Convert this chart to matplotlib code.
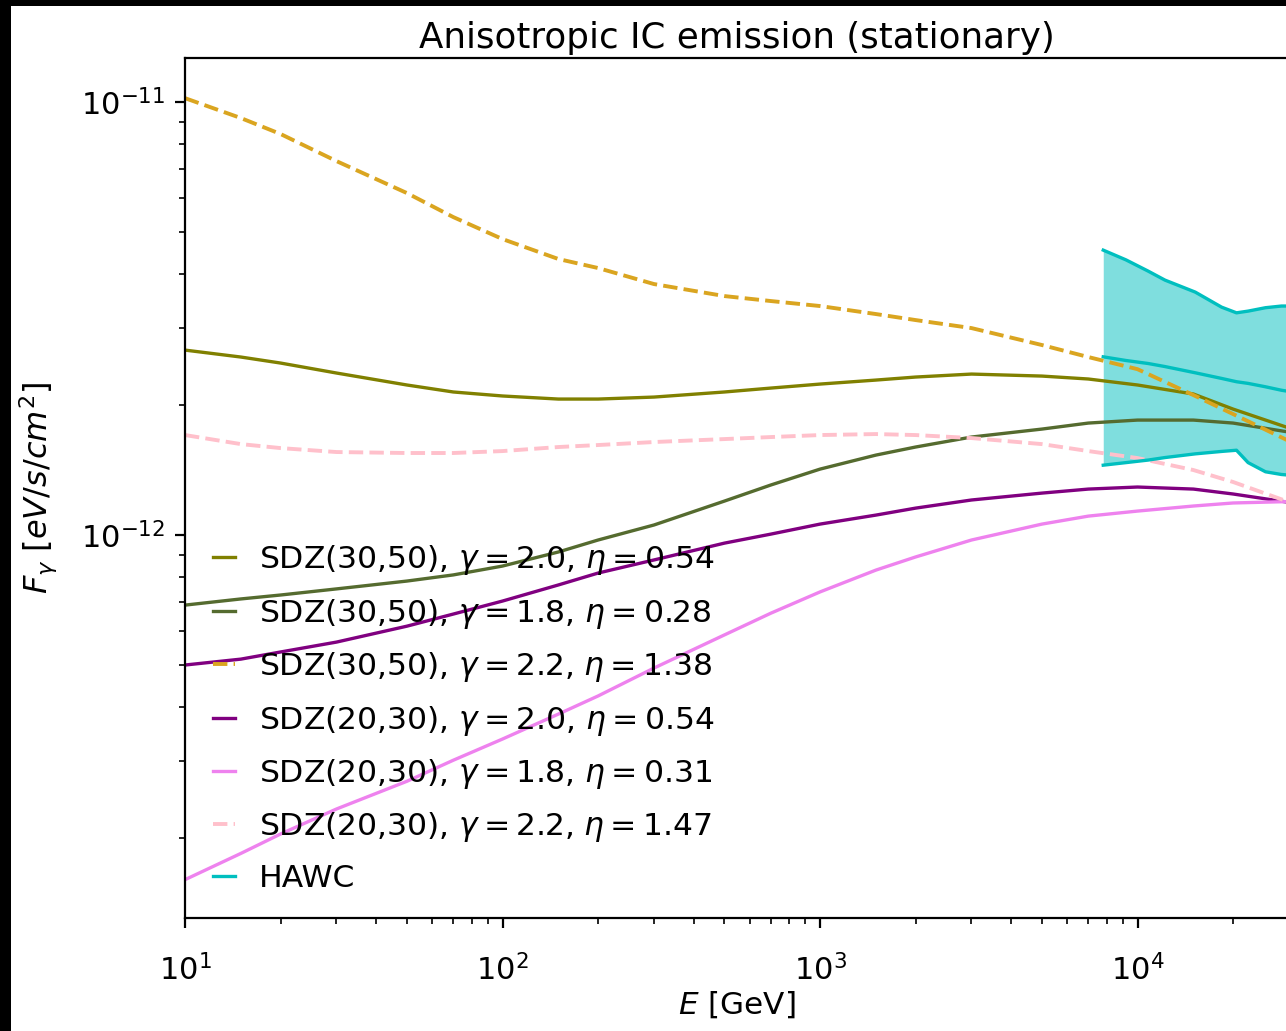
import numpy as np
import matplotlib
matplotlib.use("Agg")
import matplotlib.pyplot as plt
from matplotlib.patches import Rectangle

OUTPUT = "out.png"

# energies [GeV] where the curves were read
E = [10, 15, 20, 30, 50, 70, 100, 150, 200, 300, 500, 700,
     1e3, 1.5e3, 2e3, 3e3, 5e3, 7e3, 1e4, 1.5e4, 2e4, 3e4]

# fluxes in 1e-12 eV/s/cm^2
sdz3050_g20 = [2.674, 2.577, 2.496, 2.367, 2.221, 2.140, 2.095, 2.061, 2.061, 2.083, 2.140, 2.185,
               2.232, 2.280, 2.317, 2.354, 2.329, 2.293, 2.221, 2.117, 1.954, 1.767]
sdz3050_g18 = [0.689, 0.712, 0.727, 0.751, 0.783, 0.809, 0.848, 0.914, 0.974, 1.055, 1.198, 1.305,
               1.420, 1.530, 1.597, 1.684, 1.757, 1.814, 1.843, 1.843, 1.814, 1.729]
sdz3050_g22 = [10.21, 9.184, 8.437, 7.305, 6.163, 5.424, 4.826, 4.340, 4.137, 3.799, 3.564, 3.471,
               3.380, 3.239, 3.137, 3.006, 2.747, 2.577, 2.416, 2.105, 1.903, 1.649]
sdz2030_g20 = [0.501, 0.517, 0.537, 0.566, 0.616, 0.657, 0.704, 0.767, 0.817, 0.876, 0.958, 1.005,
               1.060, 1.112, 1.154, 1.205, 1.250, 1.277, 1.291, 1.277, 1.244, 1.190]
sdz2030_g18 = [0.160, 0.184, 0.204, 0.233, 0.270, 0.302, 0.338, 0.386, 0.425, 0.493, 0.588, 0.660,
               0.739, 0.830, 0.890, 0.974, 1.060, 1.106, 1.136, 1.167, 1.186, 1.195]
sdz2030_g22 = [1.702, 1.622, 1.588, 1.555, 1.547, 1.547, 1.563, 1.597, 1.614, 1.640, 1.666, 1.684,
               1.702, 1.711, 1.702, 1.675, 1.622, 1.563, 1.506, 1.413, 1.326, 1.192]

# HAWC band
E_hawc = [7.8e3, 9.2e3, 1.08e4, 1.22e4, 1.52e4, 1.84e4, 2.05e4, 2.23e4, 2.53e4, 2.84e4, 3.2e4]
hawc_mid = [2.58, 2.53, 2.49, 2.45, 2.37, 2.30, 2.26, 2.24, 2.20, 2.16, 2.13]
hawc_up = [4.55, 4.32, 4.07, 3.88, 3.64, 3.36, 3.26, 3.29, 3.35, 3.38, 3.38]
hawc_lo = [1.45, 1.47, 1.49, 1.51, 1.54, 1.56, 1.57, 1.47, 1.40, 1.38, 1.37]

labels = [r"SDZ(30,50), $\gamma = 2.0$, $\eta = 0.54$",
          r"SDZ(30,50), $\gamma = 1.8$, $\eta = 0.28$",
          r"SDZ(30,50), $\gamma = 2.2$, $\eta = 1.38$",
          r"SDZ(20,30), $\gamma = 2.0$, $\eta = 0.54$",
          r"SDZ(20,30), $\gamma = 1.8$, $\eta = 0.31$",
          r"SDZ(20,30), $\gamma = 2.2$, $\eta = 1.47$"]

W, H = 1286, 1031
DPI = 200
fig = plt.figure(figsize=(W / DPI, H / DPI), dpi=DPI, facecolor="black")
# white canvas, the picture is a crop with a black rim on top/left
fig.patches.append(Rectangle((11 / W, 0), 1, (H - 6) / H, transform=fig.transFigure,
                             facecolor="white", edgecolor="none", zorder=-1))

ax = fig.add_axes([185 / W, (H - 918) / H, (1289 - 185) / W, (918 - 58) / H])

s = 1e-12
ax.plot(E, np.array(sdz3050_g20) * s, color="olive", lw=1.2, label=labels[0])
ax.plot(E, np.array(sdz3050_g18) * s, color="darkolivegreen", lw=1.2, label=labels[1])
ax.plot(E, np.array(sdz3050_g22) * s, color="goldenrod", lw=1.4, ls="--", label=labels[2])
ax.plot(E, np.array(sdz2030_g20) * s, color="purple", lw=1.2, label=labels[3])
ax.plot(E, np.array(sdz2030_g18) * s, color="violet", lw=1.2, label=labels[4])
ax.plot(E, np.array(sdz2030_g22) * s, color="pink", lw=1.4, ls="--", label=labels[5])

ax.fill_between(E_hawc, np.array(hawc_lo) * s, np.array(hawc_up) * s,
                color="c", alpha=0.5, lw=0)
ax.plot(E_hawc, np.array(hawc_up) * s, color="c", lw=1.2)
ax.plot(E_hawc, np.array(hawc_lo) * s, color="c", lw=1.2)
ax.plot(E_hawc, np.array(hawc_mid) * s, color="c", lw=1.2, label="HAWC")

ax.set_xscale("log")
ax.set_yscale("log")
ax.set_xlim(10, 3e4)
ax.set_ylim(1.305e-13, 1.264e-11)
ax.set_xticks([10, 100, 1e3, 1e4])
ax.set_yticks([1e-12, 1e-11])

ax.set_title("Anisotropic IC emission (stationary)", fontsize=12.85, pad=3.5)
ax.set_xlabel(r"$E$ [GeV]", fontsize=11.2, labelpad=1)
ax.set_ylabel(r"$F_\gamma$ [$eV/s/cm^2$]", fontsize=11.5, labelpad=8)
ax.tick_params(labelsize=11)
ax.tick_params(axis="x", which="major", pad=9.5)

ax.legend(loc="lower left", bbox_to_anchor=(0.003, 0), frameon=False, fontsize=11.3,
          handlelength=0.7, handletextpad=0.75, labelspacing=0.62, borderaxespad=0.4)

fig.savefig(OUTPUT, dpi=DPI, facecolor=fig.get_facecolor())
